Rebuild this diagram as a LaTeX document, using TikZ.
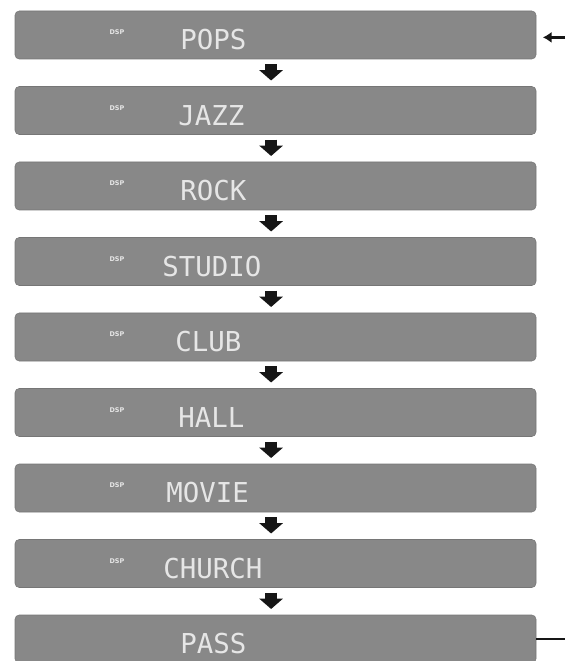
\documentclass[tikz,border=0pt]{standalone}
\usepackage{xcolor}
\usepackage{fontspec}
\usepackage{tikz}
\usetikzlibrary{arrows.meta, positioning, calc}
\newfontfamily\lcdfont{DejaVu Sans Mono}
\newfontfamily\tagfont{DejaVu Sans}
\definecolor{lcdgrey}{RGB}{136,136,136}
\definecolor{lcdedge}{RGB}{118,118,118}
\definecolor{lcdlight}{RGB}{230,230,230}
\definecolor{mydark}{RGB}{22,22,22}
\tikzset{
  lcdpanel/.style={rectangle, draw=lcdedge, fill=lcdgrey,
    minimum width=13.025cm, minimum height=1.2cm, outer sep=0pt,
    rounded corners=3pt, line width=0.4pt},
  modetext/.style={anchor=west, inner sep=0pt, text=lcdlight,
    font=\lcdfont\fontsize{19.5}{19.5}\selectfont},
  dsptag/.style={inner sep=0pt, text=lcdlight,
    font=\tagfont\bfseries\fontsize{4.6}{4.6}\selectfont},
  steparrow/.style={-{Triangle[width=0.58cm, length=0.26cm]},
    line width=0.3cm, color=mydark, shorten <=0.13cm, shorten >=0.15cm},
  loopline/.style={line width=0.065cm, color=mydark}
}

\begin{document}
\begin{tikzpicture}
  \useasboundingbox (0,0) rectangle (14.125,-16.525);
  \coordinate (rightedge) at (14.125,0);

  % Display panels
  \node[lcdpanel] (pops) at (6.8875,-0.875) {};
  \node[lcdpanel, below=0.6875cm of pops] (jazz) {};
  \node[lcdpanel, below=0.6875cm of jazz] (rock) {};
  \node[lcdpanel, below=0.6875cm of rock] (studio) {};
  \node[lcdpanel, below=0.6875cm of studio] (club) {};
  \node[lcdpanel, below=0.6875cm of club] (hall) {};
  \node[lcdpanel, below=0.6875cm of hall] (movie) {};
  \node[lcdpanel, below=0.6875cm of movie] (church) {};
  \node[lcdpanel, below=0.6875cm of church] (pass) {};

  % DSP indicators
  \node[dsptag] (popsdsp) at ([xshift=2.55cm, yshift=0.07cm]pops.west) {DSP};
  \node[dsptag] (jazzdsp) at ([xshift=2.55cm, yshift=0.07cm]jazz.west) {DSP};
  \node[dsptag] (rockdsp) at ([xshift=2.55cm, yshift=0.07cm]rock.west) {DSP};
  \node[dsptag] (studiodsp) at ([xshift=2.55cm, yshift=0.07cm]studio.west) {DSP};
  \node[dsptag] (clubdsp) at ([xshift=2.55cm, yshift=0.07cm]club.west) {DSP};
  \node[dsptag] (halldsp) at ([xshift=2.55cm, yshift=0.07cm]hall.west) {DSP};
  \node[dsptag] (moviedsp) at ([xshift=2.55cm, yshift=0.07cm]movie.west) {DSP};
  \node[dsptag] (churchdsp) at ([xshift=2.55cm, yshift=0.07cm]church.west) {DSP};

  % Mode names
  \node[modetext] (popstxt) at ([xshift=4.125cm, yshift=-0.125cm]pops.west) {POPS};
  \node[modetext] (jazztxt) at ([xshift=4.075cm, yshift=-0.125cm]jazz.west) {JAZZ};
  \node[modetext] (rocktxt) at ([xshift=4.125cm, yshift=-0.125cm]rock.west) {ROCK};
  \node[modetext] (studiotxt) at ([xshift=3.675cm, yshift=-0.125cm]studio.west) {STUDIO};
  \node[modetext] (clubtxt) at ([xshift=4.0cm, yshift=-0.125cm]club.west) {CLUB};
  \node[modetext] (halltxt) at ([xshift=4.075cm, yshift=-0.125cm]hall.west) {HALL};
  \node[modetext] (movietxt) at ([xshift=3.775cm, yshift=-0.125cm]movie.west) {MOVIE};
  \node[modetext] (churchtxt) at ([xshift=3.7cm, yshift=-0.125cm]church.west) {CHURCH};
  \node[modetext] (passtxt) at ([xshift=4.125cm, yshift=-0.125cm]pass.west) {PASS};

  % Step arrows
  \draw[steparrow] ([xshift=-0.11cm]pops.south) -- ([xshift=-0.11cm]jazz.north);
  \draw[steparrow] ([xshift=-0.11cm]jazz.south) -- ([xshift=-0.11cm]rock.north);
  \draw[steparrow] ([xshift=-0.11cm]rock.south) -- ([xshift=-0.11cm]studio.north);
  \draw[steparrow] ([xshift=-0.11cm]studio.south) -- ([xshift=-0.11cm]club.north);
  \draw[steparrow] ([xshift=-0.11cm]club.south) -- ([xshift=-0.11cm]hall.north);
  \draw[steparrow] ([xshift=-0.11cm]hall.south) -- ([xshift=-0.11cm]movie.north);
  \draw[steparrow] ([xshift=-0.11cm]movie.south) -- ([xshift=-0.11cm]church.north);
  \draw[steparrow] ([xshift=-0.11cm]church.south) -- ([xshift=-0.11cm]pass.north);

  % Loop back to the top
  \coordinate (loopout) at (pass.east -| rightedge);
  \coordinate (loopin) at ([yshift=-0.06cm]pops.east -| rightedge);
  \draw[loopline] (pass.east) -- (loopout);
  \draw[loopline, -{Latex[length=0.22cm, width=0.28cm]}, shorten >=0.17cm] (loopin) -- (pops.east |- loopin);
\end{tikzpicture}
\end{document}
